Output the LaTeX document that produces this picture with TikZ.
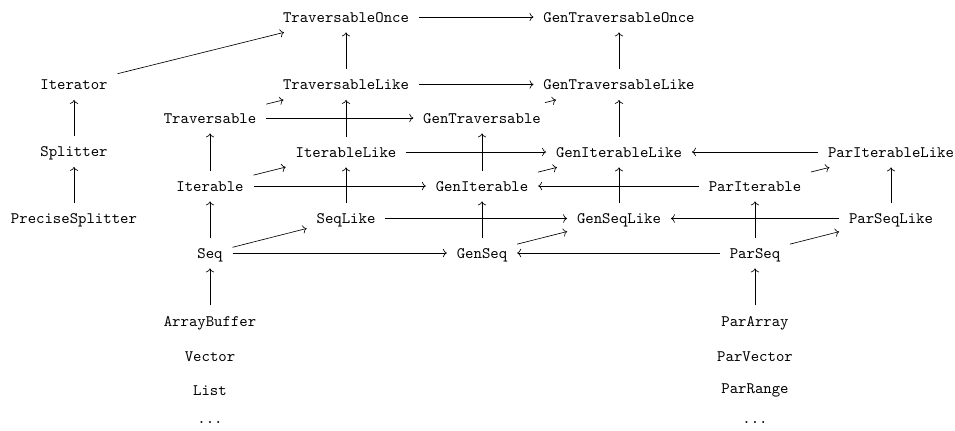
\documentclass[tikz,border=0pt]{standalone}
\usetikzlibrary{cd}
\begin{document}
\begin{tikzpicture}[x=0.625pt,y=-0.625pt,
  obj/.style={font=\ttfamily, inner xsep=6pt, inner ysep=5pt, text height=1.8ex, text depth=.25ex},
  arr/.style={-{cm to}, line width=0.4pt}]
\useasboundingbox (0,0) rectangle (955,430);
% left column
\node[obj] (Itor) at (74,84.5) {Iterator};
\node[obj] (Spl) at (74,151.5) {Splitter};
\node[obj] (PSpl) at (74,218.5) {PreciseSplitter};
% column 210
\node[obj] (Trav) at (210,118) {Traversable};
\node[obj] (Iter) at (210,186) {Iterable};
\node[obj] (Seq) at (210,253) {Seq};
\node[obj] (AB) at (210,320.7) {ArrayBuffer};
\node[obj] (Vec) at (210,356) {Vector};
\node[obj] (List) at (210,390) {List};
\node[obj] (D1) at (210,418.5) {...};
% column 346
\node[obj] (TO) at (346,17) {TraversableOnce};
\node[obj] (TL) at (346,84.5) {TraversableLike};
\node[obj] (IL) at (346,152) {IterableLike};
\node[obj] (SL) at (346,218.5) {SeqLike};
% column 482
\node[obj] (GT) at (482,118) {GenTraversable};
\node[obj] (GI) at (482,186) {GenIterable};
\node[obj] (GS) at (482,253) {GenSeq};
% column 619
\node[obj] (GTO) at (619,17) {GenTraversableOnce};
\node[obj] (GTL) at (619,84.5) {GenTraversableLike};
\node[obj] (GIL) at (619,152) {GenIterableLike};
\node[obj] (GSL) at (619,218.5) {GenSeqLike};
% column 755
\node[obj] (PI) at (755,186) {ParIterable};
\node[obj] (PS) at (755,253) {ParSeq};
\node[obj] (PA) at (755,320.7) {ParArray};
\node[obj] (PV) at (755,356) {ParVector};
\node[obj] (PR) at (755,388.5) {ParRange};
\node[obj] (D2) at (755,418.5) {...};
% column 891
\node[obj] (PIL) at (891,152) {ParIterableLike};
\node[obj] (PSL) at (891,218.5) {ParSeqLike};
% arrows
\draw[arr] (Itor) -- (TO);
\draw[arr] (Spl) -- (Itor);
\draw[arr] (PSpl) -- (Spl);
\draw[arr] (TO) -- (GTO);
\draw[arr] (TL) -- (TO);
\draw[arr] (GTL) -- (GTO);
\draw[arr] (TL) -- (GTL);
\draw[arr] (Trav) -- (TL);
\draw[arr] (Trav) -- (GT);
\draw[arr] (GT) -- (GTL);
\draw[arr] (IL) -- (TL);
\draw[arr] (GIL) -- (GTL);
\draw[arr] (GI) -- (GT);
\draw[arr] (Iter) -- (Trav);
\draw[arr] (Iter) -- (IL);
\draw[arr] (Iter) -- (GI);
\draw[arr] (IL) -- (GIL);
\draw[arr] (PIL) -- (GIL);
\draw[arr] (GI) -- (GIL);
\draw[arr] (PI) -- (GI);
\draw[arr] (PI) -- (PIL);
\draw[arr] (SL) -- (IL);
\draw[arr] (GSL) -- (GIL);
\draw[arr] (PSL) -- (PIL);
\draw[arr] (PS) -- (PI);
\draw[arr] (GS) -- (GI);
\draw[arr] (Seq) -- (Iter);
\draw[arr] (Seq) -- (SL);
\draw[arr] (Seq) -- (GS);
\draw[arr] (SL) -- (GSL);
\draw[arr] (PSL) -- (GSL);
\draw[arr] (GS) -- (GSL);
\draw[arr] (PS) -- (GS);
\draw[arr] (PS) -- (PSL);
\draw[arr] (AB) -- (Seq);
\draw[arr] (PA) -- (PS);
\end{tikzpicture}
\end{document}
